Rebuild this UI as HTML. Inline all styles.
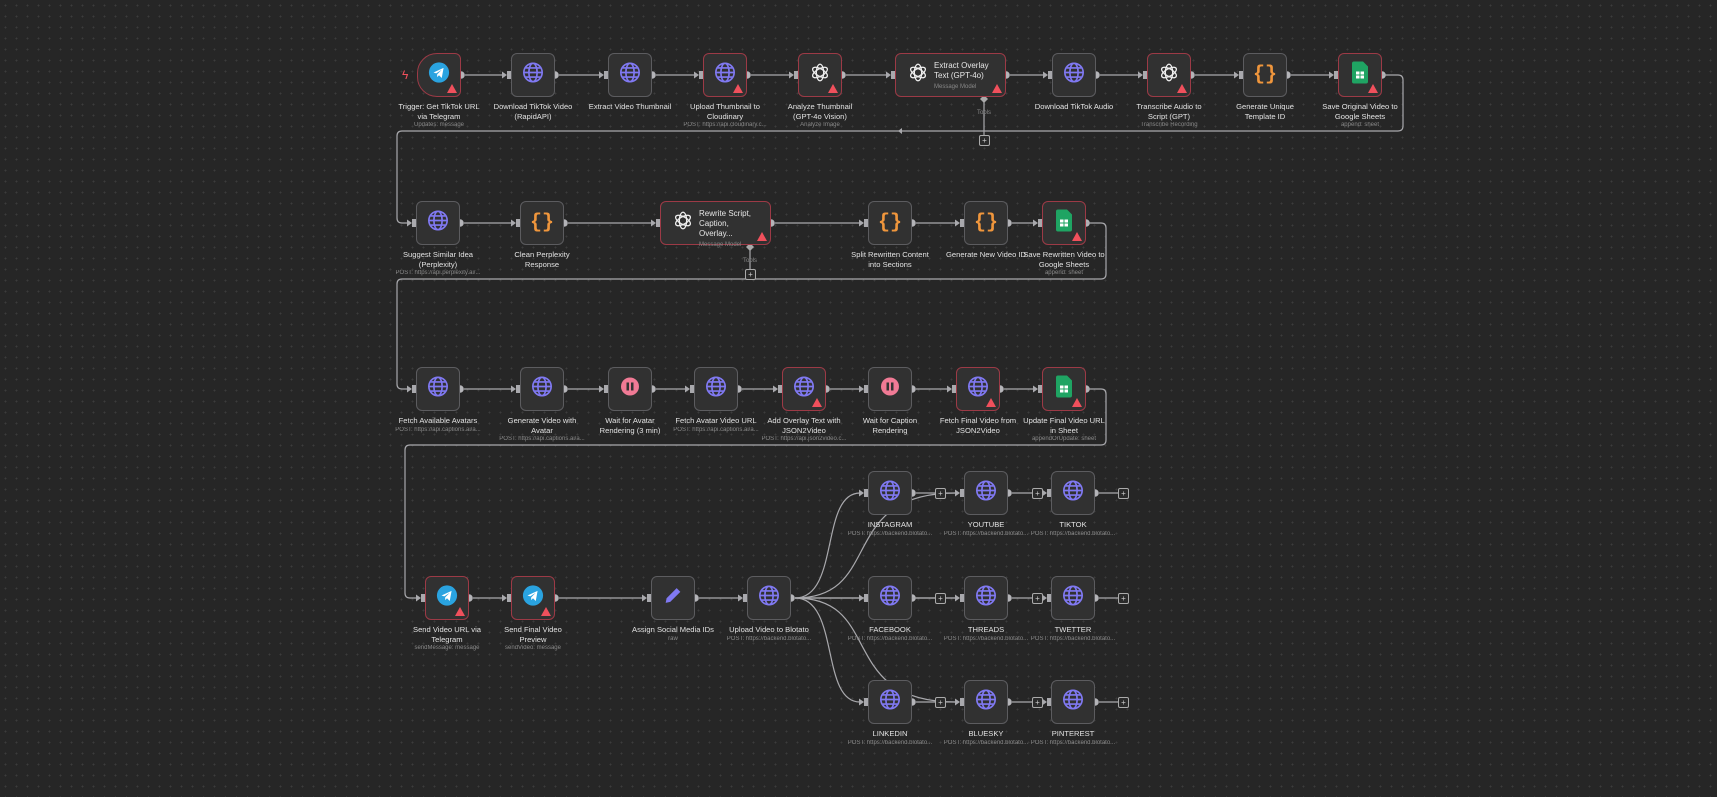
<!DOCTYPE html>
<html><head><meta charset="utf-8"><style>
html,body{margin:0;padding:0}
body{width:1717px;height:797px;overflow:hidden;background:#262626;background-image:radial-gradient(#3c3c3c 0.8px,transparent 1px);background-size:11px 11px;font-family:"Liberation Sans",sans-serif;position:relative}
.n{position:absolute;height:44px;background:#313131;border:1.5px solid #5c5c5f;border-radius:6px;box-sizing:border-box}
.n.e{border-color:#9c3a46}
.n.t{border-radius:20px 6px 6px 20px}
.ic{position:absolute;left:50%;top:50%;transform:translate(-50%,-50%)}
.w .ic{left:22px;transform:translate(-50%,-50%)}
.wt{position:absolute;left:38px;top:7px;color:#e6e6e6;font-size:8px;line-height:10px;width:62px}
.wt span{color:#888;font-size:6px}
.lbw{position:absolute;width:86px;text-align:center}
.lb{color:#e2e2e2;font-size:7.6px;line-height:9.5px}
.sb{color:#8a8a8a;font-size:6px;white-space:nowrap;overflow:hidden;text-overflow:ellipsis;margin-top:1px;width:96px;margin-left:-5px}
.wr{position:absolute;right:3px;bottom:3px;width:0;height:0;border-left:5px solid transparent;border-right:5px solid transparent;border-bottom:9px solid #f0505c}
.pl{position:absolute;width:9px;height:9px;border:1px solid #aaa;border-radius:2px;color:#ccc;font-size:8px;line-height:9px;text-align:center;background:#2a2a2a}
</style></head><body>
<svg id="s" width="1717" height="797" style="position:absolute;left:0;top:0"></svg>
<div id="r"></div>
<script>
var G='<svg width="22" height="22" viewBox="0 0 24 24" fill="none" stroke="#8079f2" stroke-width="1.8"><circle cx="12" cy="12" r="10"/><ellipse cx="12" cy="12" rx="4.5" ry="10"/><line x1="2" y1="12" x2="22" y2="12"/><path d="M4 7h16M4 17h16"/></svg>';
var O='<svg width="22" height="22" viewBox="0 0 24 24" fill="none" stroke="#eee" stroke-width="1.4"><g transform="translate(12 12)"><ellipse rx="4" ry="9" /><ellipse rx="4" ry="9" transform="rotate(60)"/><ellipse rx="4" ry="9" transform="rotate(120)"/></g></svg>';
var C='<div style="color:#f0963c;font-size:20px;font-weight:bold;font-family:Liberation Mono,monospace">{}</div>';
var T='<svg width="22" height="22" viewBox="0 0 24 24"><circle cx="12" cy="12" r="11" fill="#2aa3e0"/><path d="M6 12l11-5-2 11-3-3-2 2v-3l5-5-6 4z" fill="#fff"/></svg>';
var S='<svg width="16" height="22" viewBox="0 0 16 22"><path d="M0 2q0-2 2-2h9l5 5v15q0 2-2 2H2q-2 0-2-2z" fill="#1fa463"/><rect x="4" y="10" width="8" height="7" fill="#fff"/><path d="M4 13.5h8M8 10v7" stroke="#1fa463"/></svg>';
var W='<svg width="20" height="20"><circle cx="10" cy="10" r="9" fill="#f07a95"/><rect x="6.5" y="6" width="2.5" height="8" fill="#333"/><rect x="11" y="6" width="2.5" height="8" fill="#333"/></svg>';
var P='<svg width="22" height="22" viewBox="0 0 24 24"><path d="M4 20l1-5L16 4l4 4L9 19z" fill="#8079f2"/></svg>';
var I={g:G,o:O,c:C,t:T,s:S,w:W,p:P};
var N=[
[417,75,44,'t',1,'Trigger: Get TikTok URL via Telegram','Updates: message'],
[511,75,44,'g',0,'Download TikTok Video (RapidAPI)',''],
[608,75,44,'g',0,'Extract Video Thumbnail',''],
[703,75,44,'g',1,'Upload Thumbnail to Cloudinary','POST: https://api.cloudinary.c...'],
[798,75,44,'o',1,'Analyze Thumbnail (GPT-4o Vision)','Analyze Image'],
[895,75,111,'o',1,'',''],
[1052,75,44,'g',0,'Download TikTok Audio',''],
[1147,75,44,'o',1,'Transcribe Audio to Script (GPT)','Transcribe Recording'],
[1243,75,44,'c',0,'Generate Unique Template ID',''],
[1338,75,44,'s',1,'Save Original Video to Google Sheets','append: sheet'],
[416,223,44,'g',0,'Suggest Similar Idea (Perplexity)','POST: https://api.perplexity.ai/...'],
[520,223,44,'c',0,'Clean Perplexity Response',''],
[660,223,111,'o',1,'',''],
[868,223,44,'c',0,'Split Rewritten Content into Sections',''],
[964,223,44,'c',0,'Generate New Video ID',''],
[1042,223,44,'s',1,'Save Rewritten Video to Google Sheets','append: sheet'],
[416,389,44,'g',0,'Fetch Available Avatars','POST: https://api.captions.ai/a...'],
[520,389,44,'g',0,'Generate Video with Avatar','POST: https://api.captions.ai/a...'],
[608,389,44,'w',0,'Wait for Avatar Rendering (3 min)',''],
[694,389,44,'g',0,'Fetch Avatar Video URL','POST: https://api.captions.ai/a...'],
[782,389,44,'g',1,'Add Overlay Text with JSON2Video','POST: https://api.json2video.c...'],
[868,389,44,'w',0,'Wait for Caption Rendering',''],
[956,389,44,'g',1,'Fetch Final Video from JSON2Video',''],
[1042,389,44,'s',1,'Update Final Video URL in Sheet','appendOrUpdate: sheet'],
[425,598,44,'t',1,'Send Video URL via Telegram','sendMessage: message'],
[511,598,44,'t',1,'Send Final Video Preview','sendVideo: message'],
[651,598,44,'p',0,'Assign Social Media IDs','raw'],
[747,598,44,'g',0,'Upload Video to Blotato','POST: https://backend.blotato...'],
[868,493,44,'g',0,'INSTAGRAM','POST: https://backend.blotato...'],
[964,493,44,'g',0,'YOUTUBE','POST: https://backend.blotato...'],
[1051,493,44,'g',0,'TIKTOK','POST: https://backend.blotato...'],
[868,598,44,'g',0,'FACEBOOK','POST: https://backend.blotato...'],
[964,598,44,'g',0,'THREADS','POST: https://backend.blotato...'],
[1051,598,44,'g',0,'TWETTER','POST: https://backend.blotato...'],
[868,702,44,'g',0,'LINKEDIN','POST: https://backend.blotato...'],
[964,702,44,'g',0,'BLUESKY','POST: https://backend.blotato...'],
[1051,702,44,'g',0,'PINTEREST','POST: https://backend.blotato...']
];
var h='',s='';
var L='stroke="#a9a9ad" stroke-width="1.2" fill="none"';
function inp(x,y){s+='<rect x="'+(x-4)+'" y="'+(y-4)+'" width="4" height="8" fill="#a9a9ad"/><path d="M'+(x-9)+' '+(y-3.5)+'L'+(x-4)+' '+y+'L'+(x-9)+' '+(y+3.5)+'z" fill="#a9a9ad"/>';}
function out(x,y){s+='<circle cx="'+x+'" cy="'+y+'" r="3.8" fill="#b4b4b8"/>';}
function ln(a,b,c,d){s+='<path d="M'+a+' '+b+'L'+c+' '+d+'" '+L+'/>';}
function pl(x,y){h+='<div class="pl" style="left:'+(x-5)+'px;top:'+(y-5)+'px">+</div>';}
N.forEach(function(n,i){
 var x=n[0],y=n[1],w=n[2],t=i==0?' t':'';
 h+='<div class="n'+(n[4]?' e':'')+(w>50?' w':'')+t+'" style="left:'+x+'px;top:'+(y-22)+'px;width:'+w+'px"><div class="ic">'+I[n[3]]+'</div>'+(n[4]?'<div class="wr"></div>':'')+(i==5?'<div class="wt">Extract Overlay Text (GPT-4o)<br><span>Message Model</span></div>':'')+(i==12?'<div class="wt">Rewrite Script, Caption, Overlay...<br><span>Message Model</span></div>':'')+'</div>';
 if(n[5]){h+='<div class="lbw" style="left:'+(x+w/2-43)+'px;top:'+(y+27)+'px"><div class="lb">'+n[5]+'</div>'+(n[6]?'<div class="sb">'+n[6]+'</div>':'')+'</div>';}
 out(x+w,y); if(i>0)inp(x,y);
});
function chain(a,b){for(var i=a;i<b;i++){ln(N[i][0]+N[i][2]+4,N[i][1],N[i+1][0]-8,N[i+1][1]);}}
chain(0,9);chain(10,15);chain(16,23);chain(24,27);
s+='<path d="M1342 75H1398q5 0 5 5V126q0 5-5 5H402q-5 0-5 5V218q0 5 5 5H408" '+L+'/>';
s+='<path d="M1086 223H1101q5 0 5 5V274q0 5-5 5H402q-5 0-5 5V384q0 5 5 5H408" '+L+'/>';
s+='<path d="M1086 389H1101q5 0 5 5V440q0 5-5 5H410q-5 0-5 5V593q0 5 5 5H417" '+L+'/>';
s+='<path d="M898 131l4-3v6z" fill="#a9a9ad"/>';
[[984,98,984,140],[750,246,750,274]].forEach(function(p){ln(p[0],p[1],p[2],p[3]-5);s+='<path d="M'+p[0]+' '+(p[1]-3)+'l4 4-4 4-4-4z" fill="#aaa"/><text x="'+p[0]+'" y="'+(p[1]+16)+'" fill="#888" font-size="6" text-anchor="middle" font-family="Liberation Sans">Tools</text>';pl(p[0],p[3]);});
var ox=795,oy=598;
[[860,493],[956,493],[860,598],[956,598],[860,702],[956,702]].forEach(function(t,k){
 var tx=t[0],ty=t[1];
 s+='<path d="M'+ox+' '+oy+'C'+(ox+(k%2?90:45))+' '+oy+' '+(tx-(k%2?120:40))+' '+ty+' '+tx+' '+ty+'" '+L+'/>';
});
[493,598,702].forEach(function(y){
 ln(916,y,935,y);pl(940,y);ln(945,y,956,y);
 ln(1012,y,1032,y);pl(1037,y);ln(1042,y,1043,y);
 ln(1099,y,1118,y);pl(1123,y);
});
document.getElementById('s').innerHTML=s;
document.getElementById('r').innerHTML=h+'<div style="position:absolute;left:402px;top:68px;color:#f0505c;font-size:12px">ϟ</div>';
</script>
</body></html>
